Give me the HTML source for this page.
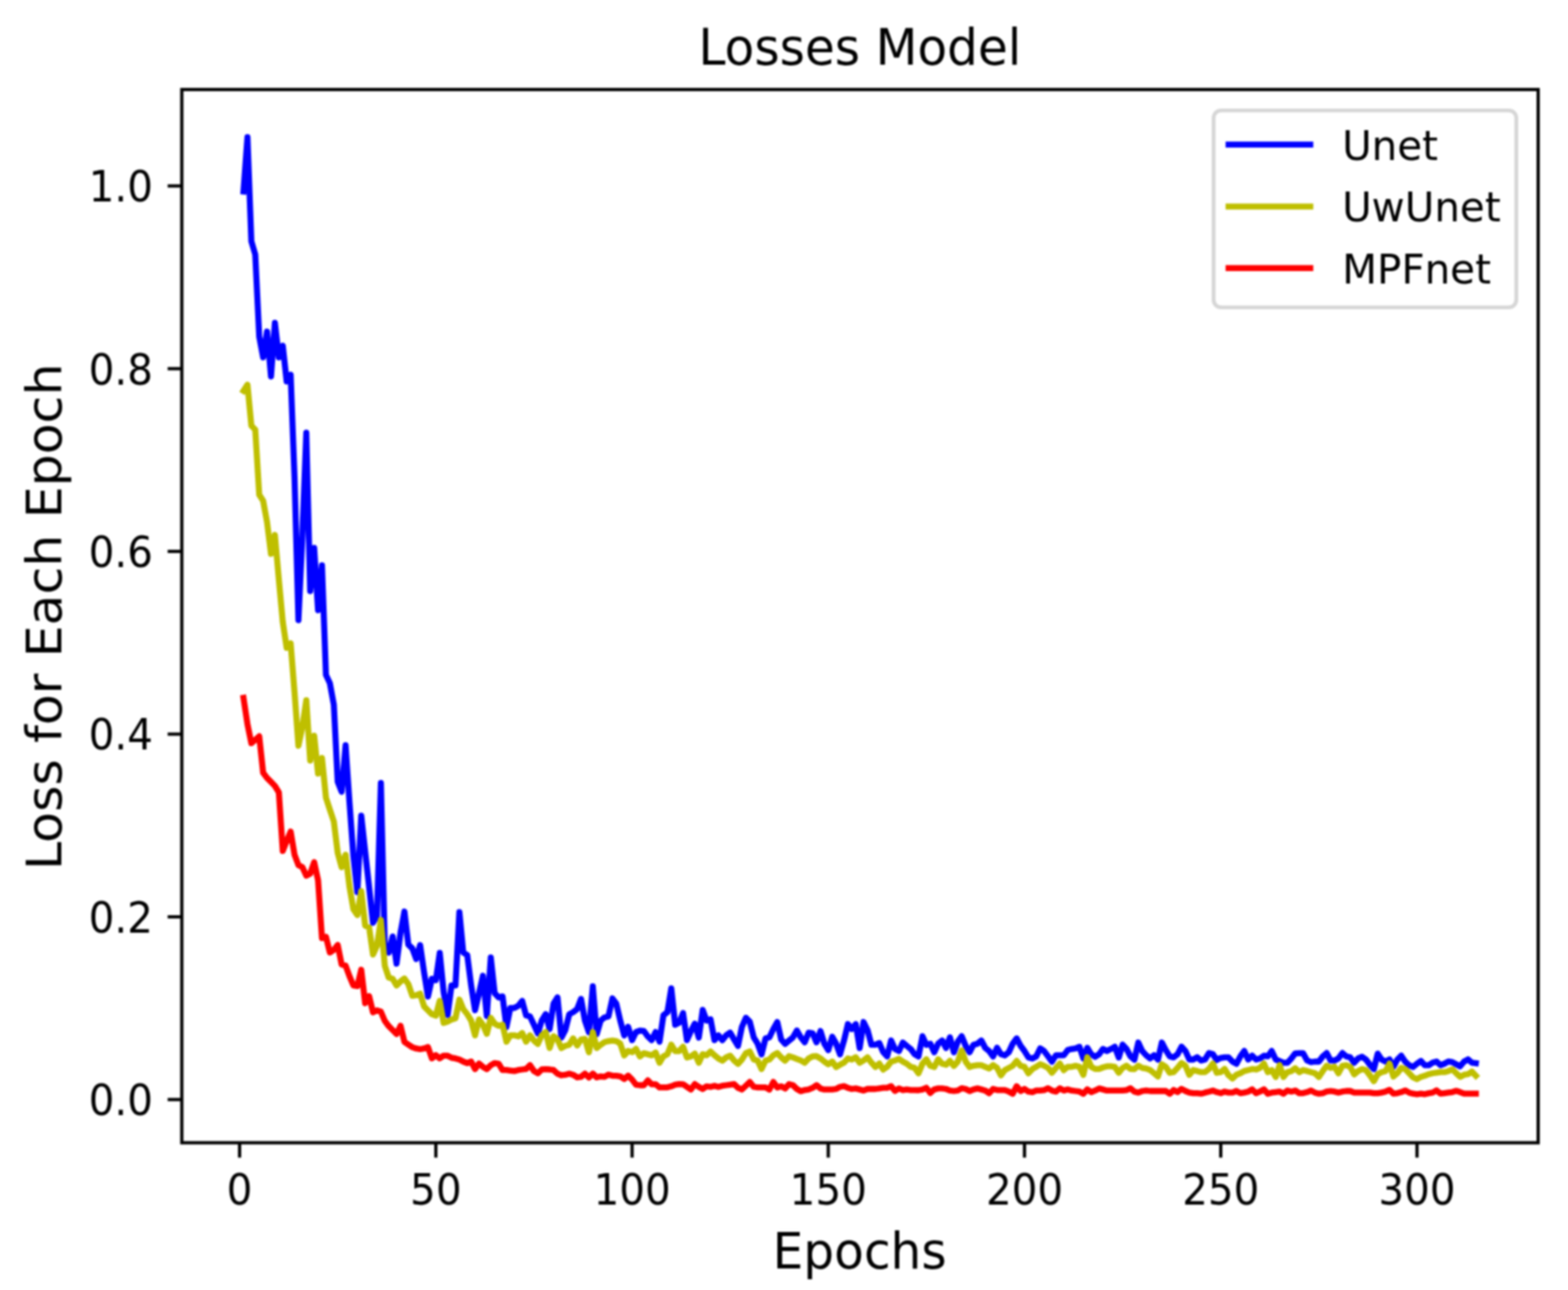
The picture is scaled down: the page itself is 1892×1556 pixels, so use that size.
<!DOCTYPE html>
<html lang="en"><head><meta charset="utf-8"><title>Losses Model</title>
<style>
html,body{margin:0;padding:0;background:#fff;}
body{width:1892px;height:1556px;overflow:hidden;}
svg{display:block;filter:blur(1px);}
text{font-family:"DejaVu Sans","Liberation Sans",sans-serif;fill:#000;}
.t{font-size:48.8px;}
.l{font-size:58.6px;}
</style></head><body>
<svg width="1892" height="1556" viewBox="0 0 1892 1556">
<rect x="0" y="0" width="1892" height="1556" fill="#ffffff"/>
<defs><clipPath id="ax"><rect x="219.4" y="108.0" width="1636.6" height="1270.4"/></clipPath></defs>
<g clip-path="url(#ax)" fill="none" stroke-linejoin="round" stroke-linecap="square">
<path d="M293.8 231.0 L298.6 165.5 L303.3 291.0 L308.0 307.0 L312.8 406.0 L317.5 431.0 L322.2 400.0 L327.0 454.0 L331.7 389.5 L336.5 431.0 L341.2 417.0 L345.9 460.0 L350.7 452.0 L355.4 576.0 L360.1 748.0 L364.9 645.0 L369.6 522.0 L374.3 713.0 L379.1 661.0 L383.8 736.0 L388.5 682.0 L393.3 814.0 L398.0 824.0 L402.8 850.0 L407.5 943.0 L412.2 955.0 L417.0 899.0 L421.7 968.0 L426.4 1032.0 L431.2 1076.0 L435.9 984.0 L440.6 1027.0 L445.4 1070.0 L450.1 1113.0 L454.8 1105.0 L459.6 944.5 L464.3 1141.0 L469.0 1149.0 L473.8 1129.6 L478.5 1162.4 L483.3 1125.0 L488.0 1099.5 L492.7 1139.4 L497.5 1144.0 L502.2 1156.8 L506.9 1139.9 L511.7 1172.7 L516.4 1202.0 L521.1 1180.6 L525.9 1182.2 L530.6 1149.4 L535.3 1196.5 L540.1 1224.2 L544.8 1188.6 L549.6 1188.6 L554.3 1100.2 L559.0 1149.0 L563.8 1152.0 L568.5 1188.6 L573.2 1218.5 L578.0 1198.1 L582.7 1177.0 L587.4 1225.5 L592.2 1155.0 L596.9 1198.1 L601.6 1203.1 L606.4 1201.9 L611.1 1238.8 L615.8 1215.8 L620.6 1215.8 L625.3 1213.3 L630.1 1207.4 L634.8 1224.7 L639.5 1226.0 L644.3 1236.1 L649.0 1246.4 L653.7 1231.0 L658.5 1223.3 L663.2 1241.2 L667.9 1210.7 L672.7 1203.0 L677.4 1251.5 L682.1 1242.5 L686.9 1223.4 L691.6 1220.9 L696.4 1217.1 L701.1 1204.9 L705.8 1231.0 L710.6 1245.0 L715.3 1189.7 L720.0 1247.5 L724.8 1231.0 L729.5 1227.2 L734.2 1226.0 L739.0 1204.3 L743.7 1210.7 L748.4 1231.0 L753.2 1248.9 L757.9 1238.5 L762.7 1254.6 L767.4 1245.0 L772.1 1243.1 L776.9 1243.7 L781.6 1250.1 L786.3 1254.6 L791.1 1244.9 L795.8 1256.5 L800.5 1224.7 L805.3 1220.9 L810.0 1192.2 L814.7 1236.1 L819.5 1233.6 L824.2 1222.0 L828.9 1254.6 L833.7 1243.7 L838.4 1234.7 L843.2 1251.5 L847.9 1218.2 L852.6 1231.0 L857.4 1229.6 L862.1 1254.6 L866.8 1248.8 L871.6 1254.6 L876.3 1248.8 L881.0 1245.5 L885.8 1253.9 L890.5 1261.6 L895.2 1238.6 L900.0 1227.7 L904.7 1232.3 L909.5 1251.3 L914.2 1258.9 L918.9 1271.8 L923.7 1252.6 L928.4 1251.3 L933.1 1241.2 L937.9 1232.8 L942.6 1253.9 L947.3 1259.1 L952.1 1255.1 L956.8 1251.3 L961.5 1243.0 L966.3 1251.3 L971.0 1257.2 L975.7 1245.6 L980.5 1246.3 L985.2 1257.2 L990.0 1243.6 L994.7 1258.9 L999.4 1266.7 L1004.2 1250.6 L1008.9 1258.9 L1013.6 1271.8 L1018.4 1255.1 L1023.1 1235.3 L1027.8 1241.2 L1032.6 1235.3 L1037.3 1264.1 L1042.0 1232.8 L1046.8 1242.5 L1051.5 1260.2 L1056.3 1260.2 L1061.0 1258.2 L1065.7 1269.1 L1070.5 1274.2 L1075.2 1255.0 L1079.9 1265.3 L1084.7 1267.8 L1089.4 1257.5 L1094.1 1261.5 L1098.9 1265.3 L1103.6 1271.6 L1108.3 1274.3 L1113.1 1249.9 L1117.8 1260.2 L1122.5 1258.9 L1127.3 1269.2 L1132.0 1258.9 L1136.8 1255.0 L1141.5 1264.1 L1146.2 1251.2 L1151.0 1269.2 L1155.7 1256.4 L1160.4 1249.9 L1165.2 1261.5 L1169.9 1269.2 L1174.6 1260.2 L1179.4 1258.9 L1184.1 1255.0 L1188.8 1264.0 L1193.6 1267.8 L1198.3 1274.3 L1203.1 1263.9 L1207.8 1271.6 L1212.5 1273.0 L1217.3 1269.1 L1222.0 1258.9 L1226.7 1252.5 L1231.5 1261.5 L1236.2 1267.8 L1240.9 1275.4 L1245.7 1276.8 L1250.4 1274.2 L1255.1 1264.5 L1259.9 1267.8 L1264.6 1274.2 L1269.3 1280.6 L1274.1 1272.9 L1278.8 1272.9 L1283.6 1272.9 L1288.3 1266.6 L1293.0 1265.3 L1297.8 1264.7 L1302.5 1262.7 L1307.2 1276.7 L1312.0 1263.9 L1316.7 1271.6 L1321.4 1274.8 L1326.2 1271.6 L1330.9 1265.2 L1335.6 1267.8 L1340.4 1265.3 L1345.1 1262.6 L1349.9 1275.6 L1354.6 1260.1 L1359.3 1265.3 L1364.1 1274.2 L1368.8 1278.1 L1373.5 1257.5 L1378.3 1267.8 L1383.0 1272.9 L1387.7 1276.7 L1392.5 1272.9 L1397.2 1278.1 L1401.9 1257.5 L1406.7 1266.6 L1411.4 1274.2 L1416.1 1275.4 L1420.9 1271.6 L1425.6 1262.6 L1430.4 1267.8 L1435.1 1278.0 L1439.8 1278.0 L1444.6 1275.3 L1449.3 1279.2 L1454.0 1278.0 L1458.8 1270.2 L1463.5 1271.6 L1468.2 1278.6 L1473.0 1276.1 L1477.7 1275.4 L1482.4 1275.4 L1487.2 1280.5 L1491.9 1283.2 L1496.7 1274.2 L1501.4 1267.7 L1506.1 1278.0 L1510.9 1273.4 L1515.6 1278.0 L1520.3 1276.7 L1525.1 1273.4 L1529.8 1274.2 L1534.5 1267.7 L1539.3 1278.0 L1544.0 1279.9 L1548.7 1281.8 L1553.5 1281.9 L1558.2 1276.7 L1562.9 1270.6 L1567.7 1270.4 L1572.4 1270.4 L1577.2 1279.2 L1581.9 1281.1 L1586.6 1280.5 L1591.4 1280.5 L1596.1 1274.2 L1600.8 1270.2 L1605.6 1279.2 L1610.3 1279.2 L1615.0 1276.7 L1619.8 1270.2 L1624.5 1274.2 L1629.2 1275.4 L1634.0 1281.9 L1638.7 1276.7 L1643.5 1274.7 L1648.2 1278.0 L1652.9 1284.3 L1657.7 1289.5 L1662.4 1270.9 L1667.1 1278.0 L1671.9 1280.5 L1676.6 1277.8 L1681.3 1286.8 L1686.1 1278.0 L1690.8 1273.4 L1695.5 1280.5 L1700.3 1284.9 L1705.0 1287.0 L1709.8 1283.0 L1714.5 1279.7 L1719.2 1284.9 L1724.0 1284.9 L1728.7 1281.8 L1733.4 1280.4 L1738.2 1284.9 L1742.9 1283.0 L1747.6 1280.4 L1752.4 1281.1 L1757.1 1283.7 L1761.8 1286.2 L1766.6 1280.5 L1771.3 1277.8 L1776.0 1281.8 L1780.8 1282.4" stroke="#0000ff" stroke-width="7.3"/>
<path d="M293.8 471.5 L298.6 464.0 L303.3 513.5 L308.0 518.3 L312.8 596.7 L317.5 604.0 L322.2 629.6 L327.0 668.0 L331.7 645.2 L336.5 699.4 L341.2 750.1 L345.9 781.4 L350.7 776.0 L355.4 835.0 L360.1 899.6 L364.9 876.6 L369.6 844.6 L374.3 917.3 L379.1 887.4 L383.8 933.2 L388.5 914.3 L393.3 962.2 L398.0 976.5 L402.8 990.8 L407.5 1028.8 L412.2 1046.0 L417.0 1030.9 L421.7 1069.6 L426.4 1096.6 L431.2 1103.7 L435.9 1074.9 L440.6 1116.4 L445.4 1118.8 L450.1 1151.3 L454.8 1141.0 L459.6 1109.8 L464.3 1164.8 L469.0 1179.0 L473.8 1180.6 L478.5 1188.6 L483.3 1183.8 L488.0 1180.3 L492.7 1187.0 L497.5 1201.2 L502.2 1200.5 L506.9 1198.6 L511.7 1213.9 L516.4 1218.7 L521.1 1223.4 L525.9 1225.0 L530.6 1207.3 L535.3 1233.8 L540.1 1232.2 L544.8 1229.8 L549.6 1228.2 L554.3 1205.7 L559.0 1217.1 L563.8 1223.4 L568.5 1231.0 L573.2 1248.9 L578.0 1229.6 L582.7 1236.1 L587.4 1247.0 L592.2 1227.7 L596.9 1234.8 L601.6 1237.4 L606.4 1236.1 L611.1 1256.5 L615.8 1248.8 L620.6 1248.8 L625.3 1250.1 L630.1 1246.1 L634.8 1256.5 L639.5 1248.8 L644.3 1255.1 L649.0 1259.1 L653.7 1248.8 L658.5 1244.9 L663.2 1264.1 L667.9 1249.9 L672.7 1253.9 L677.4 1264.1 L682.1 1261.5 L686.9 1260.2 L691.6 1252.5 L696.4 1261.0 L701.1 1253.9 L705.8 1253.2 L710.6 1269.2 L715.3 1244.9 L720.0 1264.1 L724.8 1260.2 L729.5 1257.0 L734.2 1255.8 L739.0 1255.1 L743.7 1255.8 L748.4 1258.9 L753.2 1273.0 L757.9 1267.8 L762.7 1269.1 L767.4 1265.2 L772.1 1274.3 L776.9 1270.4 L781.6 1271.6 L786.3 1272.9 L791.1 1269.6 L795.8 1281.9 L800.5 1274.2 L805.3 1271.6 L810.0 1260.1 L814.7 1267.8 L819.5 1267.8 L824.2 1262.6 L828.9 1275.6 L833.7 1274.2 L838.4 1270.9 L843.2 1281.9 L847.9 1271.6 L852.6 1272.9 L857.4 1268.3 L862.1 1272.9 L866.8 1276.7 L871.6 1279.4 L876.3 1275.4 L881.0 1273.4 L885.8 1279.2 L890.5 1283.2 L895.2 1278.0 L900.0 1270.4 L904.7 1268.3 L909.5 1278.0 L914.2 1279.2 L918.9 1289.5 L923.7 1279.2 L928.4 1278.0 L933.1 1272.9 L937.9 1270.2 L942.6 1275.4 L947.3 1279.4 L952.1 1274.0 L956.8 1275.4 L961.5 1277.3 L966.3 1279.2 L971.0 1281.9 L975.7 1276.7 L980.5 1274.2 L985.2 1274.0 L990.0 1276.7 L994.7 1280.5 L999.4 1283.8 L1004.2 1280.5 L1008.9 1287.0 L1013.6 1284.3 L1018.4 1281.8 L1023.1 1276.7 L1027.8 1278.0 L1032.6 1275.3 L1037.3 1281.9 L1042.0 1279.2 L1046.8 1275.3 L1051.5 1281.8 L1056.3 1287.0 L1061.0 1282.9 L1065.7 1290.1 L1070.5 1286.8 L1075.2 1280.5 L1079.9 1279.2 L1084.7 1277.2 L1089.4 1280.5 L1094.1 1283.0 L1098.9 1286.8 L1103.6 1288.1 L1108.3 1294.6 L1113.1 1283.0 L1117.8 1277.8 L1122.5 1285.6 L1127.3 1287.0 L1132.0 1277.8 L1136.8 1283.0 L1141.5 1284.3 L1146.2 1279.7 L1151.0 1285.7 L1155.7 1280.5 L1160.4 1267.1 L1165.2 1280.5 L1169.9 1287.0 L1174.6 1285.6 L1179.4 1284.9 L1184.1 1284.9 L1188.8 1286.8 L1193.6 1288.8 L1198.3 1284.8 L1203.1 1288.1 L1207.8 1297.1 L1212.5 1290.7 L1217.3 1288.1 L1222.0 1285.6 L1226.7 1279.7 L1231.5 1285.6 L1236.2 1286.8 L1240.9 1294.6 L1245.7 1289.4 L1250.4 1286.8 L1255.1 1283.7 L1259.9 1285.6 L1264.6 1288.1 L1269.3 1294.0 L1274.1 1288.1 L1278.8 1282.9 L1283.6 1290.8 L1288.3 1286.8 L1293.0 1286.8 L1297.8 1285.6 L1302.5 1286.8 L1307.2 1296.5 L1312.0 1275.3 L1316.7 1286.8 L1321.4 1289.4 L1326.2 1289.4 L1330.9 1287.5 L1335.6 1286.2 L1340.4 1286.2 L1345.1 1286.8 L1349.9 1294.0 L1354.6 1288.1 L1359.3 1285.5 L1364.1 1289.4 L1368.8 1289.5 L1373.5 1285.5 L1378.3 1288.1 L1383.0 1288.8 L1387.7 1290.7 L1392.5 1294.5 L1397.2 1298.4 L1401.9 1283.7 L1406.7 1286.8 L1411.4 1294.0 L1416.1 1293.2 L1420.9 1288.1 L1425.6 1282.3 L1430.4 1285.6 L1435.1 1296.5 L1439.8 1290.7 L1444.6 1291.9 L1449.3 1293.2 L1454.0 1293.2 L1458.8 1289.4 L1463.5 1282.9 L1468.2 1294.0 L1473.0 1293.2 L1477.7 1289.3 L1482.4 1297.0 L1487.2 1300.9 L1491.9 1296.4 L1496.7 1294.5 L1501.4 1291.9 L1506.1 1290.7 L1510.9 1289.4 L1515.6 1290.0 L1520.3 1288.1 L1525.1 1282.9 L1529.8 1293.2 L1534.5 1290.7 L1539.3 1299.0 L1544.0 1284.8 L1548.7 1299.0 L1553.5 1293.2 L1558.2 1291.9 L1562.9 1288.6 L1567.7 1293.2 L1572.4 1290.7 L1577.2 1291.9 L1581.9 1293.2 L1586.6 1294.5 L1591.4 1299.0 L1596.1 1291.9 L1600.8 1285.5 L1605.6 1288.1 L1610.3 1286.8 L1615.0 1294.6 L1619.8 1285.5 L1624.5 1284.9 L1629.2 1286.8 L1634.0 1295.9 L1638.7 1291.9 L1643.5 1289.4 L1648.2 1290.7 L1652.9 1297.0 L1657.7 1304.1 L1662.4 1295.7 L1667.1 1293.2 L1671.9 1291.9 L1676.6 1282.9 L1681.3 1298.4 L1686.1 1294.5 L1690.8 1288.0 L1695.5 1289.4 L1700.3 1294.5 L1705.0 1299.5 L1709.8 1301.6 L1714.5 1298.9 L1719.2 1297.6 L1724.0 1295.7 L1728.7 1294.5 L1733.4 1293.8 L1738.2 1293.2 L1742.9 1293.2 L1747.6 1291.9 L1752.4 1289.9 L1757.1 1294.5 L1761.8 1298.9 L1766.6 1296.4 L1771.3 1295.7 L1776.0 1292.6 L1780.8 1297.6" stroke="#bfbf00" stroke-width="7.3"/>
<path d="M293.8 841.7 L298.6 873.4 L303.3 896.4 L308.0 892.5 L312.8 888.2 L317.5 932.0 L322.2 938.4 L327.0 943.2 L331.7 948.0 L336.5 955.9 L341.2 1026.4 L345.9 1014.5 L350.7 1003.1 L355.4 1031.0 L360.1 1043.5 L364.9 1045.9 L369.6 1056.2 L374.3 1053.8 L379.1 1040.0 L383.8 1061.7 L388.5 1131.5 L393.3 1129.9 L398.0 1148.9 L402.8 1145.7 L407.5 1139.9 L412.2 1163.2 L417.0 1164.8 L421.7 1177.5 L426.4 1188.6 L431.2 1189.4 L435.9 1169.7 L440.6 1210.0 L445.4 1201.7 L450.1 1221.1 L454.8 1218.7 L459.6 1220.3 L464.3 1231.4 L469.0 1237.7 L473.8 1242.5 L478.5 1247.2 L483.3 1237.4 L488.0 1256.7 L492.7 1259.9 L497.5 1263.1 L502.2 1264.7 L506.9 1265.5 L511.7 1264.7 L516.4 1263.0 L521.1 1276.6 L525.9 1272.7 L530.6 1276.6 L535.3 1273.3 L540.1 1273.4 L544.8 1275.8 L549.6 1276.7 L554.3 1278.0 L559.0 1280.5 L563.8 1282.4 L568.5 1280.4 L573.2 1289.5 L578.0 1282.9 L582.7 1286.8 L587.4 1289.5 L592.2 1284.9 L596.9 1282.3 L601.6 1283.0 L606.4 1290.7 L611.1 1290.7 L615.8 1291.3 L620.6 1291.9 L625.3 1290.7 L630.1 1290.0 L634.8 1289.4 L639.5 1284.8 L644.3 1291.9 L649.0 1294.6 L653.7 1290.0 L658.5 1289.6 L663.2 1290.0 L667.9 1290.7 L672.7 1295.1 L677.4 1297.0 L682.1 1296.4 L686.9 1295.1 L691.6 1296.4 L696.4 1299.5 L701.1 1298.9 L705.8 1295.0 L710.6 1299.7 L715.3 1295.0 L720.0 1299.5 L724.8 1298.3 L729.5 1298.9 L734.2 1296.2 L739.0 1297.6 L743.7 1297.6 L748.4 1298.3 L753.2 1301.6 L757.9 1297.5 L762.7 1302.1 L767.4 1308.4 L772.1 1309.0 L776.9 1309.0 L781.6 1303.2 L786.3 1307.8 L791.1 1307.8 L795.8 1311.7 L800.5 1311.6 L805.3 1311.6 L810.0 1310.3 L814.7 1308.4 L819.5 1307.7 L824.2 1307.8 L828.9 1311.0 L833.7 1314.2 L838.4 1307.7 L843.2 1311.0 L847.9 1313.6 L852.6 1310.3 L857.4 1311.0 L862.1 1309.7 L866.8 1311.0 L871.6 1309.7 L876.3 1309.0 L881.0 1308.4 L885.8 1307.7 L890.5 1312.2 L895.2 1314.2 L900.0 1309.7 L904.7 1305.1 L909.5 1311.0 L914.2 1311.6 L918.9 1311.6 L923.7 1311.6 L928.4 1314.2 L933.1 1305.1 L937.9 1311.7 L942.6 1310.3 L947.3 1312.9 L952.1 1307.7 L956.8 1309.0 L961.5 1313.5 L966.3 1316.2 L971.0 1314.8 L975.7 1314.1 L980.5 1312.2 L985.2 1308.9 L990.0 1312.9 L994.7 1314.2 L999.4 1314.1 L1004.2 1314.1 L1008.9 1313.5 L1013.6 1311.0 L1018.4 1310.2 L1023.1 1312.2 L1027.8 1313.5 L1032.6 1312.9 L1037.3 1314.1 L1042.0 1315.4 L1046.8 1313.5 L1051.5 1313.5 L1056.3 1313.5 L1061.0 1312.9 L1065.7 1312.2 L1070.5 1312.2 L1075.2 1310.2 L1079.9 1315.8 L1084.7 1312.9 L1089.4 1314.8 L1094.1 1314.1 L1098.9 1314.8 L1103.6 1314.8 L1108.3 1315.0 L1113.1 1314.1 L1117.8 1312.1 L1122.5 1318.3 L1127.3 1314.1 L1132.0 1312.9 L1136.8 1312.9 L1141.5 1313.5 L1146.2 1315.4 L1151.0 1316.0 L1155.7 1315.4 L1160.4 1312.7 L1165.2 1313.5 L1169.9 1316.0 L1174.6 1314.1 L1179.4 1312.9 L1184.1 1314.1 L1188.8 1315.4 L1193.6 1318.6 L1198.3 1313.5 L1203.1 1314.8 L1207.8 1314.8 L1212.5 1314.8 L1217.3 1316.7 L1222.0 1319.2 L1226.7 1310.2 L1231.5 1316.0 L1236.2 1313.5 L1240.9 1316.7 L1245.7 1317.3 L1250.4 1315.4 L1255.1 1315.4 L1259.9 1314.8 L1264.6 1312.7 L1269.3 1315.4 L1274.1 1316.7 L1278.8 1312.7 L1283.6 1315.4 L1288.3 1314.1 L1293.0 1315.4 L1297.8 1316.0 L1302.5 1316.7 L1307.2 1319.3 L1312.0 1314.1 L1316.7 1317.3 L1321.4 1315.4 L1326.2 1312.9 L1330.9 1314.1 L1335.6 1315.4 L1340.4 1315.4 L1345.1 1315.4 L1349.9 1315.4 L1354.6 1315.4 L1359.3 1314.8 L1364.1 1312.7 L1368.8 1316.7 L1373.5 1317.9 L1378.3 1316.0 L1383.0 1315.4 L1387.7 1316.0 L1392.5 1316.0 L1397.2 1316.0 L1401.9 1316.0 L1406.7 1316.0 L1411.4 1319.3 L1416.1 1314.8 L1420.9 1317.3 L1425.6 1313.4 L1430.4 1316.0 L1435.1 1317.9 L1439.8 1318.6 L1444.6 1318.6 L1449.3 1319.2 L1454.0 1317.9 L1458.8 1316.7 L1463.5 1315.4 L1468.2 1317.3 L1473.0 1318.6 L1477.7 1316.7 L1482.4 1317.9 L1487.2 1317.9 L1491.9 1316.0 L1496.7 1318.6 L1501.4 1317.9 L1506.1 1316.7 L1510.9 1314.0 L1515.6 1318.6 L1520.3 1316.7 L1525.1 1314.0 L1529.8 1319.2 L1534.5 1317.9 L1539.3 1317.3 L1544.0 1316.7 L1548.7 1319.2 L1553.5 1315.4 L1558.2 1316.7 L1562.9 1315.4 L1567.7 1318.6 L1572.4 1318.6 L1577.2 1317.3 L1581.9 1315.4 L1586.6 1317.9 L1591.4 1319.2 L1596.1 1318.6 L1600.8 1316.7 L1605.6 1316.0 L1610.3 1316.7 L1615.0 1317.9 L1619.8 1316.7 L1624.5 1316.0 L1629.2 1316.0 L1634.0 1317.9 L1638.7 1317.9 L1643.5 1317.9 L1648.2 1317.9 L1652.9 1317.9 L1657.7 1318.6 L1662.4 1318.6 L1667.1 1317.9 L1671.9 1316.7 L1676.6 1314.6 L1681.3 1319.2 L1686.1 1318.6 L1690.8 1317.3 L1695.5 1315.3 L1700.3 1317.9 L1705.0 1319.2 L1709.8 1319.8 L1714.5 1319.2 L1719.2 1319.8 L1724.0 1318.6 L1728.7 1317.9 L1733.4 1315.3 L1738.2 1319.2 L1742.9 1318.6 L1747.6 1317.9 L1752.4 1317.3 L1757.1 1315.8 L1761.8 1317.3 L1766.6 1319.2 L1771.3 1319.2 L1776.0 1319.2 L1780.8 1319.2" stroke="#ff0000" stroke-width="7.3"/>
</g>
<g stroke="#000" stroke-width="3.9" fill="none">
<line x1="289.1" y1="1378.4" x2="289.1" y2="1396.3"/>
<line x1="525.9" y1="1378.4" x2="525.9" y2="1396.3"/>
<line x1="762.7" y1="1378.4" x2="762.7" y2="1396.3"/>
<line x1="999.4" y1="1378.4" x2="999.4" y2="1396.3"/>
<line x1="1236.2" y1="1378.4" x2="1236.2" y2="1396.3"/>
<line x1="1473.0" y1="1378.4" x2="1473.0" y2="1396.3"/>
<line x1="1709.8" y1="1378.4" x2="1709.8" y2="1396.3"/>
<line x1="219.4" y1="1326.3" x2="202.3" y2="1326.3"/>
<line x1="219.4" y1="1105.9" x2="202.3" y2="1105.9"/>
<line x1="219.4" y1="885.5" x2="202.3" y2="885.5"/>
<line x1="219.4" y1="665.1" x2="202.3" y2="665.1"/>
<line x1="219.4" y1="444.7" x2="202.3" y2="444.7"/>
<line x1="219.4" y1="224.3" x2="202.3" y2="224.3"/>
<rect x="219.4" y="108.0" width="1636.6" height="1270.4" stroke-linejoin="miter"/>
</g>
<text class="t" transform="translate(289.1 1452.7) scale(1 1.05)" text-anchor="middle">0</text>
<text class="t" transform="translate(525.9 1452.7) scale(1 1.05)" text-anchor="middle">50</text>
<text class="t" transform="translate(762.7 1452.7) scale(1 1.05)" text-anchor="middle">100</text>
<text class="t" transform="translate(999.4 1452.7) scale(1 1.05)" text-anchor="middle">150</text>
<text class="t" transform="translate(1236.2 1452.7) scale(1 1.05)" text-anchor="middle">200</text>
<text class="t" transform="translate(1473.0 1452.7) scale(1 1.05)" text-anchor="middle">250</text>
<text class="t" transform="translate(1709.8 1452.7) scale(1 1.05)" text-anchor="middle">300</text>
<text class="t" transform="translate(184.6 1345.1) scale(1 1.05)" text-anchor="end">0.0</text>
<text class="t" transform="translate(184.6 1124.7) scale(1 1.05)" text-anchor="end">0.2</text>
<text class="t" transform="translate(184.6 904.3) scale(1 1.05)" text-anchor="end">0.4</text>
<text class="t" transform="translate(184.6 683.9) scale(1 1.05)" text-anchor="end">0.6</text>
<text class="t" transform="translate(184.6 463.5) scale(1 1.05)" text-anchor="end">0.8</text>
<text class="t" transform="translate(184.6 243.1) scale(1 1.05)" text-anchor="end">1.0</text>
<text class="l" transform="translate(1037.5 78.3) scale(1 1.04)" text-anchor="middle">Losses Model</text>
<text class="l" transform="translate(1037.3 1529.5) scale(1 1.04)" text-anchor="middle">Epochs</text>
<text class="l" transform="translate(74.4 744) rotate(-90) scale(1.042 1)" text-anchor="middle">Loss for Each Epoch</text>
<rect x="1464.4" y="133.2" width="365.2" height="237.6" rx="9" ry="9" fill="#ffffff" fill-opacity="0.8" stroke="#cccccc" stroke-opacity="0.8" stroke-width="4.6"/>
<line x1="1482.5" y1="174.4" x2="1581.0" y2="174.4" stroke="#0000ff" stroke-width="7.3" stroke-linecap="square"/>
<text class="t" transform="translate(1619.4 192.7) scale(1 1.03)">Unet</text>
<line x1="1482.5" y1="249.1" x2="1581.0" y2="249.1" stroke="#bfbf00" stroke-width="7.3" stroke-linecap="square"/>
<text class="t" transform="translate(1619.4 267.4) scale(1 1.03)">UwUnet</text>
<line x1="1482.5" y1="323.4" x2="1581.0" y2="323.4" stroke="#ff0000" stroke-width="7.3" stroke-linecap="square"/>
<text class="t" transform="translate(1619.4 341.7) scale(1 1.03)">MPFnet</text>
</svg>
</body></html>
